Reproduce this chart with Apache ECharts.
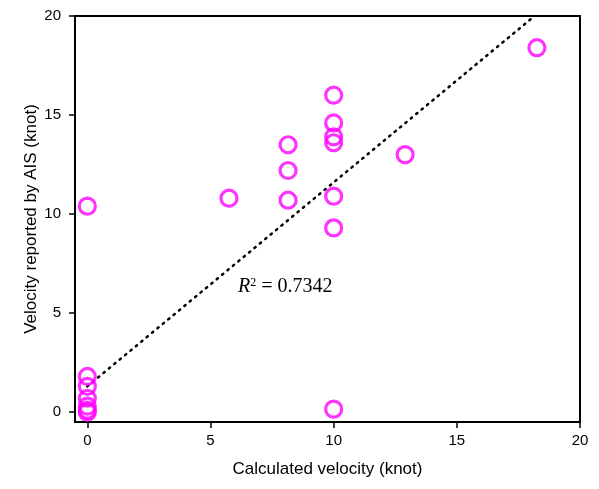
<!DOCTYPE html>
<html><head><meta charset="utf-8">
<script src="https://cdn.jsdelivr.net/npm/echarts@6/dist/echarts.min.js"></script>
<style>html,body{margin:0;padding:0;background:#fff}#c{width:599px;height:489px}</style>
</head><body><div id="c"></div>
<script>
const calcVelocity = [18.25, 0, 5.75, 8.15, 8.15, 8.15, 10, 10, 10, 10, 10, 10, 10, 12.9, 0, 0, 0, 0, 0, 0];
const aisVelocity  = [18.4, 10.4, 10.8, 13.5, 12.2, 10.7, 16.0, 14.6, 13.9, 13.6, 10.9, 9.3, 0.15, 13.0, 1.8, 1.3, 0.7, 0.3, 0.1, 0.0];
const trendSlope = 1.03;
const trendIntercept = 1.3;
const xTicks = [0, 5, 10, 15, 20];
const yTicks = [0, 5, 10, 15, 20];
const r2Label = '0.7342';

const pts = calcVelocity.map((x, i) => [x, aisVelocity[i]]);
const xEnd = (20 - trendIntercept) / trendSlope;
const trend = [[0, trendIntercept], [xEnd, trendIntercept + trendSlope * xEnd]];

const chart = echarts.init(document.getElementById('c'), null, {renderer: 'canvas'});
const axisCommon = {
  min: -0.5, max: 20,
  axisLine: {show: true, onZero: false, lineStyle: {color: '#000', width: 2}},
  axisTick: {show: true, inside: false, length: 6, lineStyle: {color: '#000', width: 1.5}},
  axisLabel: {color: '#000', fontFamily: 'Liberation Sans, Arial', fontSize: 15},
  splitLine: {show: false}
};
chart.setOption({
  animation: false,
  grid: {left: 75, right: 19, top: 16, bottom: 67, show: true, borderColor: '#000', borderWidth: 2},
  xAxis: Object.assign({}, axisCommon, {
    type: 'value',
    axisTick: Object.assign({}, axisCommon.axisTick, {customValues: xTicks}),
    axisLabel: Object.assign({}, axisCommon.axisLabel, {customValues: xTicks, margin: 11}),
    name: 'Calculated velocity (knot)', nameLocation: 'middle', nameGap: 39, nameMoveOverlap: false,
    nameTextStyle: {color: '#000', fontFamily: 'Liberation Sans, Arial', fontSize: 17}
  }),
  yAxis: Object.assign({}, axisCommon, {
    type: 'value',
    axisTick: Object.assign({}, axisCommon.axisTick, {customValues: yTicks}),
    axisLabel: Object.assign({}, axisCommon.axisLabel, {customValues: yTicks, margin: 14}),
    name: 'Velocity reported by AIS (knot)', nameLocation: 'middle', nameGap: 35, nameMoveOverlap: false,
    nameTextStyle: {color: '#000', fontFamily: 'Liberation Sans, Arial', fontSize: 17}
  }),
  series: [
    {type: 'line', data: trend, symbol: 'none', silent: true,
     lineStyle: {color: '#000', width: 2.5, type: [1.5, 5.5], cap: 'round'}, z: 1},
    {type: 'scatter', data: pts, symbol: 'circle', symbolSize: 16,
     itemStyle: {color: 'rgba(0,0,0,0)', borderColor: '#ff00ff', borderWidth: 3.2}, z: 2}
  ],
  graphic: [{
    type: 'text', left: 238, top: 277,
    style: {
      rich: {
        r: {fontFamily: 'Liberation Serif, Times New Roman', fontStyle: 'italic', fontSize: 20, fill: '#000'},
        s: {fontFamily: 'Liberation Serif, Times New Roman', fontSize: 12, fill: '#000', verticalAlign: 'top', padding: [0,0,8,0]},
        t: {fontFamily: 'Liberation Serif, Times New Roman', fontSize: 20, fill: '#000'}
      },
      text: '{r|R}{s|2}{t| = ' + r2Label + '}'
    }
  }]
});
</script></body></html>
